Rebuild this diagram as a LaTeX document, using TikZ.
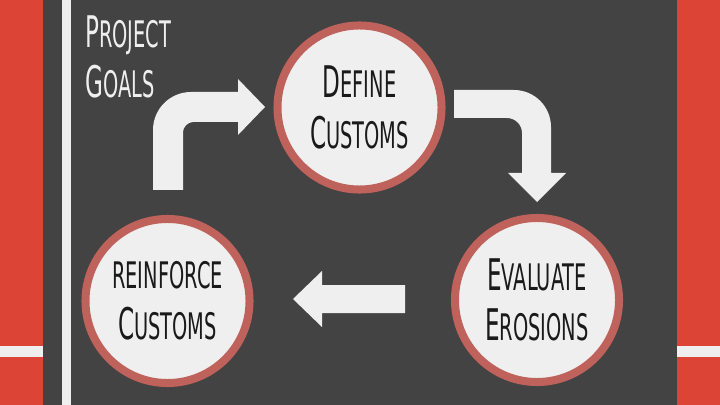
\documentclass[tikz,border=0pt]{standalone}
\usepackage{fontspec}
\newfontfamily\handfont[FakeStretch=0.53]{DejaVu Sans}
\definecolor{slate}{HTML}{434343}
\definecolor{brick}{HTML}{DC4436}
\definecolor{paper}{HTML}{EFEFEF}
\definecolor{rim}{HTML}{C0625C}
\definecolor{ink}{HTML}{1A1A1A}
\newcommand\capword[2]{{\fontsize{31}{36}\selectfont #1}{\fontsize{26}{36}\selectfont #2}}
\tikzset{
stage/.style={circle, draw=rim, fill=paper, line width=5.7pt, minimum size=4.1cm,
  inner sep=0pt, align=center, text=ink, font=\handfont\fontsize{26}{36}\selectfont},
bigarrow/.style={fill=paper}
}

\begin{document}
\begin{tikzpicture}[x=0.025cm, y=-0.025cm]
\useasboundingbox (0,0) rectangle (720,405);
\fill[slate] (0,0) rectangle (720,405);
% side bands
\fill[brick] (0,0) rectangle (43,405);
\fill[brick] (677,0) rectangle (720,405);
\fill[paper] (0,346) rectangle (43,357);
\fill[paper] (677,346) rectangle (720,357);
\fill[paper] (62,0) rectangle (71,405);

\node[anchor=base west, inner sep=0pt, align=left, text=paper,
  font=\handfont\fontsize{26}{36}\selectfont] (title) at (85,98)
  {\capword{P}{ROJECT}\\\capword{G}{OALS}};

\node[stage] (define) at (359.5,107.5) {\capword{D}{EFINE}\\\capword{C}{USTOMS}};
\node[stage] (evaluate) at (537,300) {\capword{E}{VALUATE}\\\capword{E}{ROSIONS}};
\node[stage] (reinforce) at (167.5,301) {\capword{}{REINFORCE}\\\capword{C}{USTOMS}};

% arrows between the stages
\fill[bigarrow] (153,190) -- (153,130) .. controls (153,109) and (170,92) .. (191,92)
  -- (238,92) -- (238,79) -- (265,107) -- (238,135) -- (238,122) -- (193,122)
  .. controls (187.5,122) and (183,127.5) .. (183,132) -- (183,190) -- cycle;
\fill[bigarrow] (454,90) -- (514,90) .. controls (534.4,90) and (551,106.6) .. (551,127)
  -- (551,173) -- (566,173) -- (537,202) -- (508,173) -- (522,173) -- (522,133)
  .. controls (522,124.7) and (515.3,118) .. (507,118) -- (454,118) -- cycle;
\fill[bigarrow] (405,285) -- (322,285) -- (322,271) -- (293,299) -- (322,327)
  -- (322,313) -- (405,313) -- cycle;
\end{tikzpicture}
\end{document}
